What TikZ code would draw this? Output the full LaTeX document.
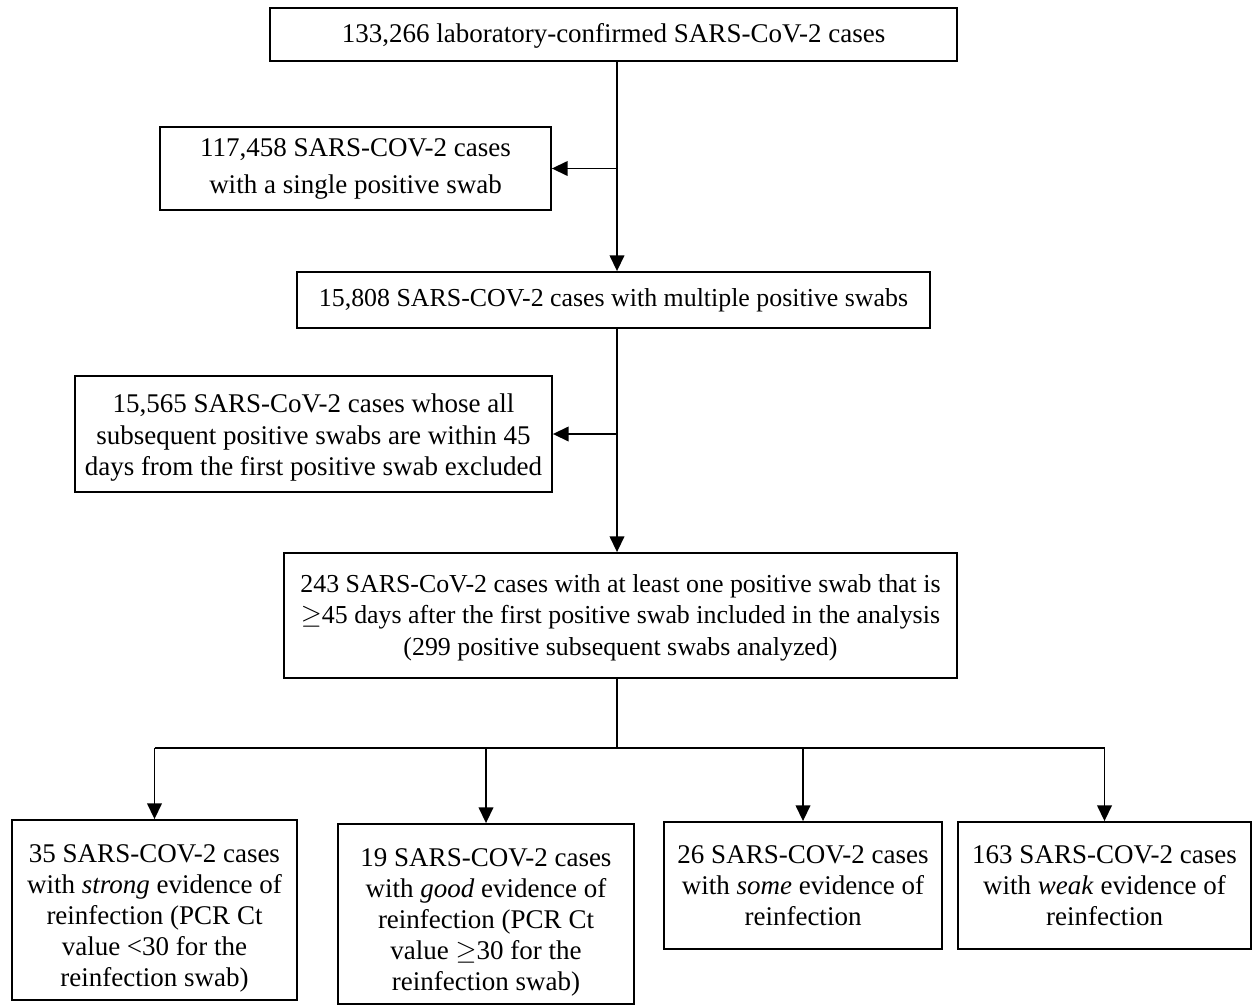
\documentclass[tikz,border=0pt]{standalone}
\usepackage{fontspec}
\setmainfont{Liberation Serif}
\usetikzlibrary{arrows.meta}

% extra room above the first line of a box
\newcommand{\topgap}[1]{\rule{0pt}{#1}}

\begin{document}
\begin{tikzpicture}[
  x=0.4444pt, y=-0.4444pt,
  every node/.style={align=center,font=\fontsize{12}{13.8}\selectfont},
  small/.style={font=\fontsize{11.5}{13.8}\selectfont},
  box/.style={draw,thick,rectangle,inner sep=0pt},
  flow/.style={-{Triangle[length=7pt,width=6.5pt]},thick,black},
  link/.style={-,thick,black}]

  \useasboundingbox (0,0) rectangle (1253,1005);

  % main column
  \node[box,minimum width=687*0.4444pt,minimum height=53*0.4444pt] (total) at (613.5,34.5)
    {\topgap{10pt}133,266 laboratory-confirmed SARS-CoV-2 cases};
  \node[box,minimum width=391*0.4444pt,minimum height=83*0.4444pt] (single) at (355.5,168.5)
    {117,458 SARS-COV-2 cases\\[2.6pt]with a single positive swab};
  \node[box,small,minimum width=633*0.4444pt,minimum height=56*0.4444pt] (multi) at (613.5,300)
    {15,808 SARS-COV-2 cases with multiple positive swabs};
  \node[box,minimum width=477*0.4444pt,minimum height=116*0.4444pt] (excl) at (313.5,434)
    {\topgap{11.5pt}15,565 SARS-CoV-2 cases whose all\\subsequent positive swabs are within 45\\days from the first positive swab excluded};
  \node[box,small,minimum width=673*0.4444pt,minimum height=125*0.4444pt] (incl) at (620.5,615.5)
    {\topgap{10pt}243 SARS-CoV-2 cases with at least one positive swab that is\\$\geq$45 days after the first positive swab included in the analysis\\(299 positive subsequent swabs analyzed)};

  % outcome row
  \node[box,minimum width=285*0.4444pt,minimum height=180*0.4444pt] (strong) at (154.5,910)
    {\topgap{15.5pt}35 SARS-COV-2 cases\\with \textit{strong} evidence of\\reinfection (PCR Ct\\value <30 for the\\reinfection swab)};
  \node[box,minimum width=296*0.4444pt,minimum height=180*0.4444pt] (good) at (486,914)
    {\topgap{15.5pt}19 SARS-COV-2 cases\\with \textit{good} evidence of\\reinfection (PCR Ct\\value $\geq$30 for the\\reinfection swab)};
  \node[box,minimum width=278*0.4444pt,minimum height=127*0.4444pt] (some) at (803,885.5)
    {26 SARS-COV-2 cases\\with \textit{some} evidence of\\reinfection};
  \node[box,minimum width=293*0.4444pt,minimum height=127*0.4444pt] (weak) at (1104.5,885.5)
    {163 SARS-COV-2 cases\\with \textit{weak} evidence of\\reinfection};

  \coordinate (trunk) at (617,0);
  \coordinate (split) at (617,748);

  % trunk and side branches
  \draw[flow] (total.south -| trunk) -- (multi.north -| trunk);
  \draw[flow] (trunk |- single.east) -- (single.east);
  \draw[flow] (multi.south -| trunk) -- (incl.north -| trunk);
  \draw[flow] (trunk |- excl.east) -- (excl.east);

  % split into outcomes
  \draw[link] (incl.south -| trunk) -- (split);
  \draw[link] (strong.north |- split) -- (weak.north |- split);
  \draw[flow] (strong.north |- split) -- (strong.north);
  \draw[flow] (good.north |- split) -- (good.north);
  \draw[flow] (some.north |- split) -- (some.north);
  \draw[flow] (weak.north |- split) -- (weak.north);

\end{tikzpicture}
\end{document}
